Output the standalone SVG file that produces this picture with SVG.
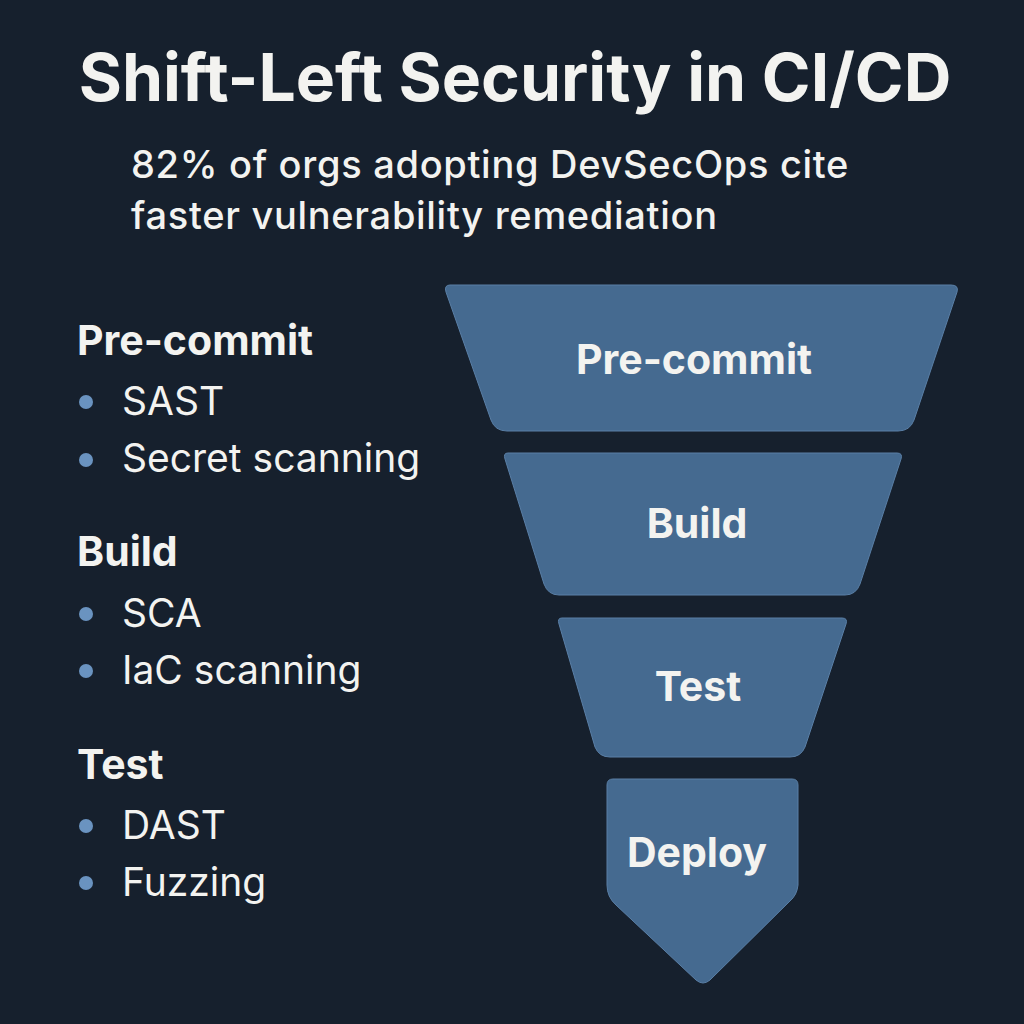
<svg xmlns="http://www.w3.org/2000/svg" width="1024" height="1024" viewBox="0 0 1024 1024">
<style>
.t{font-family:Inter,"Noto Sans",sans-serif;fill:#f3f3f0}
.title{font-size:66px;font-weight:700}
.sub{font-size:38px;font-weight:500;letter-spacing:0.7px}
.h{font-size:41px;font-weight:700}
.li{font-size:39px;font-weight:400}
.stage{fill:#456a90;stroke:#5a7fa6;stroke-width:1}
.sl{font-size:41px;font-weight:700;text-anchor:middle}
.dot{fill:#6a93c0}
</style>
<rect width="1024" height="1024" fill="#16202d"/>
<text class="t title" x="515" y="101" text-anchor="middle">Shift-Left Security in CI/CD</text>
<text class="t sub" x="131" y="178">82% of orgs adopting DevSecOps cite</text>
<text class="t sub" x="131" y="229">faster vulnerability remediation</text>
<g id="list">
<text class="t h" x="77" y="355">Pre-commit</text>
<circle class="dot" cx="86" cy="402" r="7"/><text class="t li" x="122" y="415">SAST</text>
<circle class="dot" cx="86" cy="460" r="7"/><text class="t li" x="122" y="472">Secret scanning</text>
<text class="t h" x="77" y="566">Build</text>
<circle class="dot" cx="86" cy="614" r="7"/><text class="t li" x="122" y="627">SCA</text>
<circle class="dot" cx="86" cy="671" r="7"/><text class="t li" x="122" y="684">IaC scanning</text>
<text class="t h" x="77" y="779">Test</text>
<circle class="dot" cx="86" cy="826" r="7"/><text class="t li" x="122" y="839">DAST</text>
<circle class="dot" cx="86" cy="883" r="7"/><text class="t li" x="122" y="896">Fuzzing</text>
</g>
<g id="precommit">
<path class="stage" d="M450,285 L951,285 Q959,285 957,292 L914,420 Q910,431 898,431 L507,431 Q495,431 491,420 L446,292 Q444,285 450,285 Z"/>
<text class="t sl" x="694" y="374">Pre-commit</text>
</g>
<g id="build">
<path class="stage" d="M508,453 L897,453 Q903,453 901,459 L860,584 Q856,595 845,595 L559,595 Q548,595 544,584 L505,459 Q503,453 508,453 Z"/>
<text class="t sl" x="697" y="538">Build</text>
</g>
<g id="test">
<path class="stage" d="M562,618 L842,618 Q848,618 846,624 L805,747 Q801,757 790,757 L610,757 Q599,757 595,747 L559,624 Q557,618 562,618 Z"/>
<text class="t sl" x="698" y="701">Test</text>
</g>
<g id="deploy">
<path class="stage" d="M613,779 L792,779 Q798,779 798,785 L798,885 Q797,895 790,901 L710,980 Q703,986 696,980 L616,905 Q607,897 607,885 L607,785 Q607,779 613,779 Z"/>
<text class="t sl" x="697" y="867">Deploy</text>
</g>
</svg>
